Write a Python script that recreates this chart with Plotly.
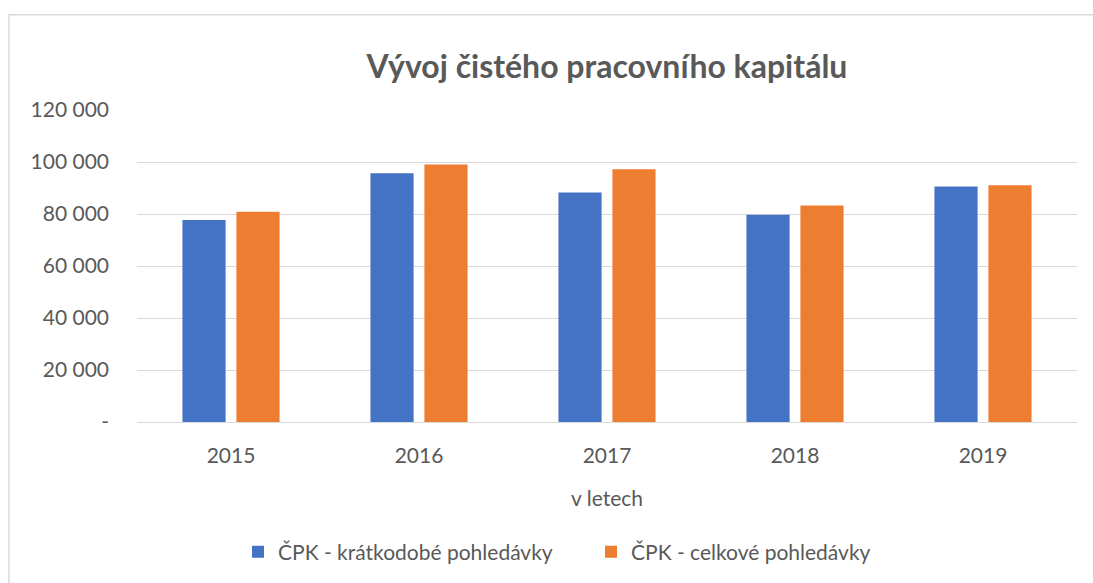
import plotly.graph_objects as go

years = ["2015", "2016", "2017", "2018", "2019"]
kratkodobe = [77700, 95700, 88250, 79700, 90580]
celkove = [80900, 99000, 97170, 83300, 91100]
y_tickvals = [0, 20000, 40000, 60000, 80000, 100000, 120000]
y_ticktext = ["-", "20 000", "40 000", "60 000", "80 000", "100 000", "120 000"]

FONT = "Lato"
GREY = "#595959"
FS = 21

fig = go.Figure()
fig.add_trace(go.Bar(x=years, y=kratkodobe, name="ČPK - krátkodobé pohledávky",
                     marker=dict(color="#4472C4", line=dict(width=0))))
fig.add_trace(go.Bar(x=years, y=celkove, name="ČPK - celkové pohledávky",
                     marker=dict(color="#ED7D31", line=dict(width=0))))

W, H = 1093, 583
L, R, T, B = 137, 16, 110, 160
pw = W - L - R
ph = H - T - B

def px_x(p):
    return (p - L) / pw

def px_y(p):
    return (H - B - p) / ph

fig.update_layout(
    width=W, height=H,
    margin=dict(l=L, r=R, t=T, b=B),
    paper_bgcolor="white", plot_bgcolor="white",
    font=dict(family=FONT, color=GREY, size=FS),
    barmode="group", bargap=0.426, bargroupgap=0.2,
    title=dict(text="<b>Vývoj čistého pracovního kapitálu</b>",
               x=0.5, xref="paper", y=1 - 67 / H, yanchor="middle",
               font=dict(family=FONT, size=32, color=GREY)),
    xaxis=dict(showgrid=False, showline=False, ticks="", tickfont=dict(size=FS, color=GREY),
               ticklabelstandoff=19,
               title=dict(text="v letech", font=dict(size=FS, color=GREY), standoff=25)),
    yaxis=dict(range=[0, 120000], tickvals=y_tickvals, ticktext=y_ticktext,
               showgrid=True, gridcolor="#D9D9D9", gridwidth=1, zeroline=True,
               zerolinecolor="#D9D9D9", zerolinewidth=1, showline=False,
               ticks="", ticklabelstandoff=27, tickfont=dict(size=FS, color=GREY)),
    legend=dict(orientation="h", x=px_x(591), xanchor="center", y=px_y(552), yanchor="middle",
                font=dict(size=FS, color=GREY), itemwidth=30, traceorder="normal",
                entrywidth=308, entrywidthmode="pixels"),
    showlegend=True,
    shapes=[dict(type="rect", xref="paper", yref="paper",
                 x0=px_x(9), x1=px_x(1100), y0=px_y(600), y1=px_y(14.5),
                 line=dict(color="#D9D9D9", width=1.5), fillcolor="rgba(0,0,0,0)", layer="below")],
)

fig.write_html("out.html", config={"displayModeBar": False},
               post_script="document.body.style.margin='0';document.body.style.overflow='hidden';")
